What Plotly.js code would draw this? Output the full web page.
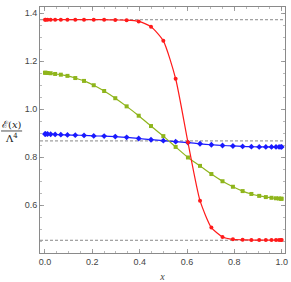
<!DOCTYPE html>
<html>
<head>
<meta charset="utf-8">
<script src="https://cdn.plot.ly/plotly-3.0.1.min.js"></script>
<style>html,body{margin:0;padding:0;background:#fff;}#chart{width:291px;height:282px;}</style>
</head>
<body>
<div id="chart"></div>
<script>
// sample positions
const xNodes = [0, 0.003, 0.011, 0.024, 0.043, 0.067, 0.095, 0.128, 0.165, 0.206, 0.25, 0.297, 0.345, 0.396, 0.448, 0.5, 0.552, 0.604, 0.655, 0.703, 0.75, 0.794, 0.835, 0.872, 0.905, 0.933, 0.957, 0.976, 0.989, 0.997, 1.0];
const redValues = [1.373, 1.373, 1.373, 1.373, 1.373, 1.373, 1.373, 1.373, 1.373, 1.373, 1.373, 1.372, 1.371, 1.366, 1.344, 1.285, 1.127, 0.862, 0.619, 0.507, 0.468, 0.458, 0.456, 0.455, 0.455, 0.455, 0.455, 0.455, 0.455, 0.455, 0.455];
const greenValues = [1.152, 1.152, 1.151, 1.150, 1.147, 1.144, 1.139, 1.130, 1.118, 1.100, 1.076, 1.046, 1.012, 0.973, 0.930, 0.888, 0.843, 0.799, 0.764, 0.730, 0.700, 0.677, 0.659, 0.647, 0.639, 0.634, 0.631, 0.629, 0.628, 0.627, 0.627];
const blueValues = [0.897, 0.897, 0.897, 0.896, 0.895, 0.894, 0.893, 0.892, 0.891, 0.889, 0.888, 0.886, 0.883, 0.878, 0.873, 0.869, 0.865, 0.861, 0.856, 0.852, 0.849, 0.847, 0.845, 0.844, 0.843, 0.843, 0.843, 0.843, 0.843, 0.843, 0.843];
const limitValues = [1.373, 0.868, 0.454];
const xTickVals = [0, 0.2, 0.4, 0.6, 0.8, 1.0];
const xTickText = ['0.0', '0.2', '0.4', '0.6', '0.8', '1.0'];
const yTickVals = [0.6, 0.8, 1.0, 1.2, 1.4];
const yTickText = ['0.6', '0.8', '1.0', '1.2', '1.4'];

const RED = '#ff1a1a', GREEN = '#8fb51c', BLUE = '#1a1aff';

function series(y, color, symbol, size) {
  return {
    x: xNodes, y: y, type: 'scatter', mode: 'lines+markers',
    line: {color: color, width: 1.2, shape: 'spline', smoothing: 0.6},
    marker: {color: color, symbol: symbol, size: size},
    hoverinfo: 'skip', showlegend: false
  };
}

const data = [
  series(blueValues, BLUE, 'diamond', 4.5),
  series(greenValues, GREEN, 'square', 4),
  series(redValues, RED, 'circle', 4)
];

const shapes = limitValues.map(v => ({
  type: 'line', xref: 'paper', x0: 0, x1: 1, yref: 'y', y0: v, y1: v,
  line: {color: '#888', width: 1, dash: '3px,2px'}, layer: 'below'
}));
// fraction bar of the y label
shapes.push({type: 'line', xref: 'paper', yref: 'paper', x0: -0.159, x1: -0.073, y0: 0.496, y1: 0.496,
  line: {color: '#222', width: 0.8}});

const axisCommon = {
  showline: true, linecolor: '#8a8a8a', linewidth: 1, mirror: 'ticks',
  ticks: 'inside', ticklen: 4, tickwidth: 0.8, tickcolor: '#8a8a8a',
  showgrid: false, zeroline: false,
  tickfont: {family: 'Liberation Sans, Arial, sans-serif', size: 9, color: '#444'},
  minor: {ticks: 'inside', ticklen: 2, tickwidth: 0.6, tickcolor: '#8a8a8a', dtick: 0.05, showgrid: false}
};

const layout = {
  width: 291, height: 282,
  margin: {l: 40, r: 6, t: 7, b: 29},
  paper_bgcolor: '#fff', plot_bgcolor: '#fff',
  showlegend: false,
  xaxis: Object.assign({}, axisCommon, {
    range: [-0.021, 1.014], tickvals: xTickVals, ticktext: xTickText, tick0: 0,
    title: {text: '<i>x</i>', font: {family: 'Liberation Serif, DejaVu Serif, serif', size: 10, color: '#444'}, standoff: 8}
  }),
  yaxis: Object.assign({}, axisCommon, {
    range: [0.401, 1.426], tickvals: yTickVals, ticktext: yTickText
  }),
  shapes: shapes,
  annotations: [
    {xref: 'paper', yref: 'paper', x: -0.116, y: 0.524, text: 'ℰ(<i>x</i>)', showarrow: false,
      font: {family: 'DejaVu Serif, Liberation Serif, serif', size: 10, color: '#222'}, xanchor: 'center', yanchor: 'middle'},
    {xref: 'paper', yref: 'paper', x: -0.116, y: 0.467, text: 'Λ<sup>4</sup>', showarrow: false,
      font: {family: 'DejaVu Serif, Liberation Serif, serif', size: 10, color: '#222'}, xanchor: 'center', yanchor: 'middle'}
  ]
};

Plotly.newPlot('chart', data, layout, {staticPlot: true, displayModeBar: false});
</script>
</body>
</html>
